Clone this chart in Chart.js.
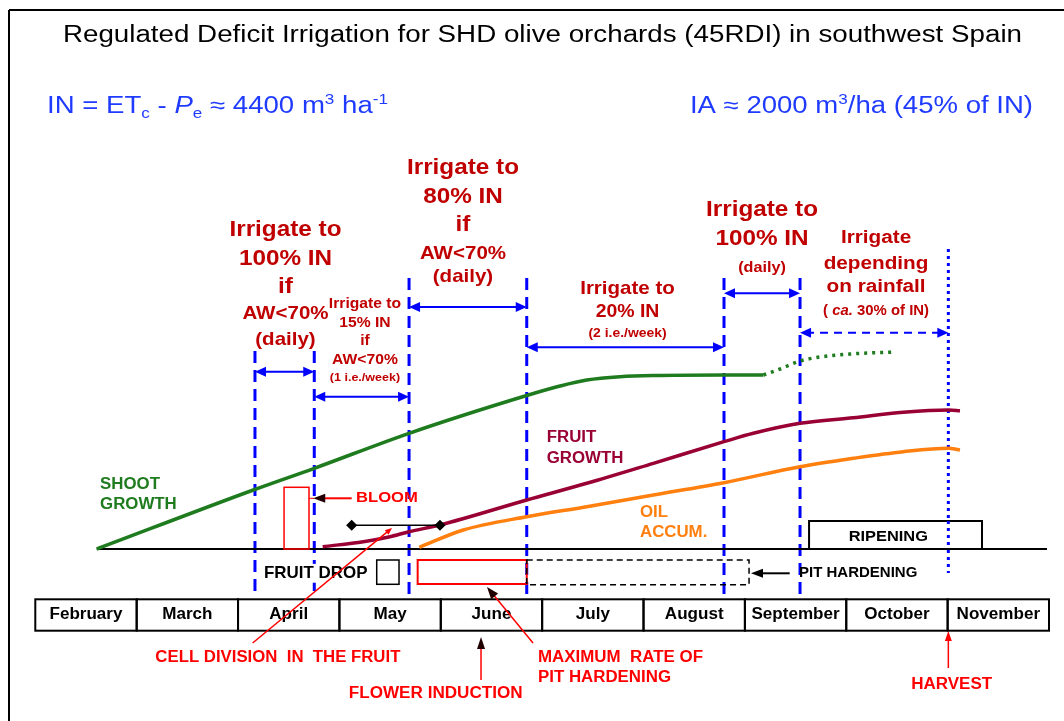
<!DOCTYPE html>
<html><head><meta charset="utf-8">
<script src="https://cdn.jsdelivr.net/npm/chart.js@4.4.1/dist/chart.umd.min.js"></script>
<style>html,body{margin:0;padding:0;background:#fff;overflow:hidden}canvas{display:block}</style>
</head><body>
<canvas id="c" width="1064" height="721"></canvas>
<script>
// ================= DATA (x = months since 1 February, y = relative growth units) =================
const months = ['February','March','April','May','June','July','August','September','October','November'];
const monthStart = [0,1,2,3,4,5,6,7,8,9];

const shootX = [0.606, 2.151, 2.752, 3.687, 4.848, 5.176, 5.440, 5.768, 6.163, 6.794, 7.182];
const shootY = [0, 11.8, 16.14, 23.14, 30.7, 32.6, 33.8, 34.46, 34.7, 34.8, 34.8];
const shootRainX = [7.182, 7.347, 7.544, 7.741, 8.037, 8.481];
const shootRainY = [34.8, 36.0, 37.6, 38.4, 39.0, 39.4];
const fruitX = [2.835, 3.236, 3.499, 3.687, 3.992, 4.848, 5.440, 6.097, 6.794, 7.083, 7.544, 8.070, 8.563, 9.007, 9.122];
const fruitY = [0.46, 1.46, 2.46, 3.46, 4.8, 9.8, 13.14, 17.14, 21.46, 23.14, 25.14, 26.26, 27.34, 27.8, 27.66];
const oilX = [3.788, 4.222, 4.848, 5.440, 6.097, 6.794, 7.544, 8.070, 8.563, 9.007, 9.122];
const oilY = [0.34, 3.8, 6.46, 8.46, 10.8, 13.26, 16.46, 18.14, 19.46, 20.14, 19.8];
const cellDivX = [3.121, 3.992];
const cellDivY = [4.74, 4.74];

const phaseBounds = [2.167, 2.752, 3.687, 4.848, 6.794, 7.544];
const harvestX = 9.007;

// ================= STYLE / LAYOUT =================
const FONT = '"Liberation Sans", Arial, Helvetica, sans-serif';
const STRETCH = 1.08;
const C = {blue:'#0000ff', hblue:'#1f3bff', dred:'#c00000', red:'#ff0000', green:'#1e7b1e',
           fruit:'#990033', oil:'#ff7f0f', black:'#000000'};

const phaseTop = [39.6, 39.6, 54.2, 54.2, 54.2, 54.2];
const phaseBottom = -9.8;
const spans = [
  {a:0, b:1, y:35.46}, {a:1, b:2, y:30.46}, {a:2, b:3, y:48.4},
  {a:3, b:4, y:40.34}, {a:4, b:5, y:51.14}, {a:5, b:'h', y:43.26, dashed:true}
];
const irrigationNotes = [
  {x:2.468, lines:[['Irrigate to',63.94,22.5],['100% IN',58.14,22.5],['if',52.46,22.5],['AW<70%',47.0,19],['(daily)',41.8,19]]},
  {x:4.219, lines:[['Irrigate to',76.34,22.5],['80% IN',70.46,22.5],['if',64.8,22.5],['AW<70%',59.0,19],['(daily)',54.46,19]]},
  {x:3.252, lines:[['Irrigate to',49.0,14.5],['15% IN',45.26,14.5],['if',41.6,14.5],['AW<70%',37.8,14.5],['(1 i.e./week)',34.34,11.6]]},
  {x:5.842, lines:[['Irrigate to',52.14,19],['20% IN',47.46,18],['(2 i.e./week)',43.14,12.9]]},
  {x:7.169, lines:[['Irrigate to',67.94,22.5],['100% IN',62.14,22.5],['(daily)',56.14,15]]},
  {x:8.294, lines:[['Irrigate',62.34,19.2],['depending',57.14,19.2],['on rainfall',52.46,19.2]]}
];

function seg(ctx,x1,y1,x2,y2,color,lw,dash){ctx.save();ctx.strokeStyle=color;ctx.lineWidth=lw;ctx.setLineDash(dash||[]);ctx.beginPath();ctx.moveTo(x1,y1);ctx.lineTo(x2,y2);ctx.stroke();ctx.restore();}
function head(ctx,x1,y1,x2,y2,len,half,color){const a=Math.atan2(y2-y1,x2-x1),c=Math.cos(a),s=Math.sin(a);ctx.save();ctx.fillStyle=color;ctx.beginPath();ctx.moveTo(x2,y2);ctx.lineTo(x2-len*c+half*s,y2-len*s-half*c);ctx.lineTo(x2-len*c-half*s,y2-len*s+half*c);ctx.closePath();ctx.fill();ctx.restore();}
function arrow(ctx,x1,y1,x2,y2,color,lw,headColor,len,half,dash){const a=Math.atan2(y2-y1,x2-x1);seg(ctx,x1,y1,x2-len*0.6*Math.cos(a),y2-len*0.6*Math.sin(a),color,lw,dash);head(ctx,x1,y1,x2,y2,len,half,headColor);}
function rect(ctx,x1,y1,x2,y2,color,lw,dash){ctx.save();ctx.strokeStyle=color;ctx.lineWidth=lw;ctx.setLineDash(dash||[]);ctx.strokeRect(Math.min(x1,x2),Math.min(y1,y2),Math.abs(x2-x1),Math.abs(y2-y1));ctx.restore();}
function text(ctx,s,x,y,o){
  const size=o.size, align=o.align||'center';
  ctx.save();
  ctx.font=(o.italic?'italic ':'')+(o.bold===false?'':'bold ')+size+'px '+FONT;
  const w=ctx.measureText(s).width;
  const k=o.fit?o.fit/w:(o.sx||STRETCH);
  if(o.bg){const left=align==='center'?x-w*k/2:align==='right'?x-w*k:x;ctx.fillStyle=o.bg;ctx.fillRect(left-2,y-size*0.6,w*k+4,size*1.2);}
  ctx.fillStyle=o.color;ctx.textBaseline='middle';ctx.textAlign=align;
  ctx.translate(x,y);ctx.scale(k,1);ctx.fillText(s,0,0);
  ctx.restore();
}
function rich(ctx,segs,x,y,o){
  const size=o.size;
  ctx.save();
  const f=sg=>(sg.it?'italic ':'')+(o.bold?'bold ':'')+((sg.sub||sg.sup)?size*0.62:size)+'px '+FONT;
  let tot=0;const ws=segs.map(sg=>{ctx.font=f(sg);const w=ctx.measureText(sg.t).width;tot+=w;return w;});
  const k=o.fit?o.fit/tot:(o.sx||STRETCH);
  let cx=o.align==='right'?x-tot*k:o.align==='center'?x-tot*k/2:x;
  ctx.fillStyle=o.color;ctx.textBaseline='alphabetic';ctx.textAlign='left';
  const base=y+size*0.36;
  segs.forEach((sg,i)=>{ctx.font=f(sg);ctx.save();ctx.translate(cx,base+(sg.sub?size*0.22:sg.sup?-size*0.38:0));ctx.scale(k,1);ctx.fillText(sg.t,0,0);ctx.restore();cx+=ws[i]*k;});
  ctx.restore();
}

const annot = {
  id:'annot',
  beforeDatasetsDraw(chart){
    const ctx=chart.ctx, X=v=>chart.scales.x.getPixelForValue(v), Y=v=>chart.scales.y.getPixelForValue(v);
    // frame
    seg(ctx,9,10,chart.width,10,C.black,2);
    seg(ctx,9,10,9,chart.height,C.black,2);
    // phase boundaries
    phaseBounds.forEach((b,i)=>seg(ctx,X(b),Y(phaseTop[i]),X(b),Y(phaseBottom),C.blue,3,[12,7]));
    seg(ctx,X(harvestX),Y(60),X(harvestX),Y(-4.8),C.blue,3,[3,4]);
    // irrigation period arrows
    spans.forEach(s=>{
      const x1=X(phaseBounds[s.a]), x2=X(s.b==='h'?harvestX:phaseBounds[s.b]), y=Y(s.y);
      const dash=s.dashed?[8,6]:[];
      seg(ctx,x1+6,y,x2-6,y,C.blue,2,dash);
      head(ctx,x2,y,x1,y,11,5,C.blue); head(ctx,x1,y,x2,y,11,5,C.blue);
    });
    // baseline
    seg(ctx,X(0.606),Y(0),X(9.98),Y(0),C.black,2);
  },
  afterDatasetsDraw(chart){
    const ctx=chart.ctx, X=v=>chart.scales.x.getPixelForValue(v), Y=v=>chart.scales.y.getPixelForValue(v);
    const mw=v=>X(v)-X(0);
    // header
    text(ctx,'Regulated Deficit Irrigation for SHD olive orchards (45RDI) in southwest Spain',X(5.003),Y(102.6),{size:23,bold:false,color:C.black,fit:mw(9.461)});
    rich(ctx,[{t:'IN = ET'},{t:'c',sub:1},{t:' - '},{t:'P',it:1},{t:'e',sub:1},{t:' \u2248 4400 m'},{t:'3',sup:1},{t:' ha'},{t:'-1',sup:1}],
         X(0.115),Y(88.9),{size:23,color:C.hblue,fit:mw(3.364),align:'left'});
    rich(ctx,[{t:'IA \u2248 2000 m'},{t:'3',sup:1},{t:'/ha (45% of IN)'}],
         X(9.842),Y(88.9),{size:23,color:C.hblue,fit:mw(3.384),align:'right'});
    // irrigation notes
    irrigationNotes.forEach(n=>n.lines.forEach(l=>text(ctx,l[0],X(n.x),Y(l[1]),{size:l[2],color:C.dred})));
    rich(ctx,[{t:'( '},{t:'ca.',it:1},{t:' 30% of IN)'}],X(8.294),Y(47.8),{size:13.8,color:C.dred,bold:true,align:'center'});
    // curve labels
    text(ctx,'SHOOT',X(0.639),Y(12.94),{size:15.6,color:C.green,align:'left'});
    text(ctx,'GROWTH',X(0.639),Y(8.8),{size:15.6,color:C.green,align:'left'});
    text(ctx,'FRUIT',X(5.045),Y(22.26),{size:15.6,color:C.fruit,align:'left'});
    text(ctx,'GROWTH',X(5.045),Y(18.14),{size:15.6,color:C.fruit,align:'left'});
    text(ctx,'OIL',X(5.965),Y(7.26),{size:15.6,color:C.oil,align:'left'});
    text(ctx,'ACCUM.',X(5.965),Y(3.26),{size:15.6,color:C.oil,align:'left'});
    // bloom
    rect(ctx,X(2.454),Y(12.34),X(2.700),Y(0),C.red,1.5);
    seg(ctx,X(2.70),Y(10.14),X(2.75),Y(10.14),C.red,1);
    arrow(ctx,X(3.121),Y(10.14),X(2.742),Y(10.14),C.red,2,'#200000',12,4.5);
    text(ctx,'BLOOM',X(3.164),Y(10.2),{size:15.4,color:C.red,align:'left'});
    // ripening
    ctx.save();ctx.fillStyle='#fff';ctx.fillRect(X(7.633),Y(5.6),X(9.339)-X(7.633),Y(0)-Y(5.6));ctx.restore();
    rect(ctx,X(7.633),Y(5.6),X(9.339),Y(0),C.black,2);
    seg(ctx,X(harvestX),Y(5.6),X(harvestX),Y(0),C.blue,3,[3,4]);
    text(ctx,'RIPENING',X(8.415),Y(2.34),{size:15.2,color:C.black});
    // fruit drop / pit hardening row
    text(ctx,'FRUIT DROP',X(2.256),Y(-4.86),{size:15.7,color:C.black,align:'left',bg:'#fff'});
    rect(ctx,X(3.368),Y(-2.2),X(3.588),Y(-7.06),C.black,1.5);
    rect(ctx,X(3.772),Y(-2.2),X(4.848),Y(-7.0),C.red,2);
    rect(ctx,X(4.848),Y(-2.2),X(7.041),Y(-7.14),C.black,1.5,[6,4]);
    arrow(ctx,X(7.442),Y(-4.86),X(7.060),Y(-4.86),C.black,2,C.black,12,4.5);
    text(ctx,'PIT HARDENING',X(7.534),Y(-4.86),{size:13.9,color:C.black,align:'left'});
    // months
    months.forEach((m,i)=>{
      rect(ctx,X(monthStart[i]),Y(-10.06),X(monthStart[i]+1),Y(-16.34),C.black,2);
      text(ctx,m,X(monthStart[i]+0.5),Y(-13.2),{size:15.8,color:C.black});
    });
    // bottom callouts
    arrow(ctx,X(2.144),Y(-18.8),X(3.519),Y(4.2),C.red,1.5,C.red,7,3);
    arrow(ctx,X(4.910),Y(-18.8),X(4.456),Y(-7.6),C.red,1.5,'#200000',12,4.5);
    arrow(ctx,X(4.397),Y(-26.2),X(4.397),Y(-17.6),C.red,1.5,'#200000',12,4);
    arrow(ctx,X(harvestX),Y(-23.8),X(harvestX),Y(-16.4),C.red,1.5,C.red,10,3.5);
    text(ctx,'CELL DIVISION  IN  THE FRUIT',X(2.393),Y(-21.66),{size:16,color:C.red,fit:mw(2.417)});
    text(ctx,'FLOWER INDUCTION',X(3.95),Y(-28.86),{size:16,color:C.red,fit:mw(1.716)});
    text(ctx,'MAXIMUM  RATE OF',X(4.959),Y(-21.66),{size:16,color:C.red,align:'left',fit:mw(1.628)});
    text(ctx,'PIT HARDENING',X(4.959),Y(-25.74),{size:16,color:C.red,align:'left',fit:mw(1.312)});
    text(ctx,'HARVEST',X(9.04),Y(-27.06),{size:16,color:C.red,fit:mw(0.799)});
  }
};

const pts=(xs,ys)=>xs.map((x,i)=>({x:x,y:ys[i]}));
new Chart(document.getElementById('c').getContext('2d'),{
  type:'line',
  data:{datasets:[
    {label:'Cell division',data:pts(cellDivX,cellDivY),borderColor:C.black,backgroundColor:C.black,borderWidth:1.5,pointStyle:'rectRot',pointRadius:4.5,tension:0},
    {label:'Shoot growth',data:pts(shootX,shootY),borderColor:C.green,borderWidth:3.5,tension:0.4,cubicInterpolationMode:'monotone'},
    {label:'Shoot growth (rainfall)',data:pts(shootRainX,shootRainY),borderColor:C.green,borderWidth:3.5,borderDash:[3,5],tension:0.4,cubicInterpolationMode:'monotone'},
    {label:'Fruit growth',data:pts(fruitX,fruitY),borderColor:C.fruit,borderWidth:3.5,tension:0.4,cubicInterpolationMode:'monotone'},
    {label:'Oil accumulation',data:pts(oilX,oilY),borderColor:C.oil,borderWidth:3.5,tension:0.4,cubicInterpolationMode:'monotone'}
  ]},
  options:{
    responsive:false, animation:false, devicePixelRatio:1,
    layout:{autoPadding:false,padding:{left:35.3,right:15,top:0,bottom:0}},
    scales:{x:{type:'linear',min:0,max:10,display:false},y:{type:'linear',min:-34.4,max:109.8,display:false}},
    plugins:{legend:{display:false},tooltip:{enabled:false},title:{display:false}},
    elements:{point:{radius:0}}
  },
  plugins:[annot]
});
</script>
</body></html>
